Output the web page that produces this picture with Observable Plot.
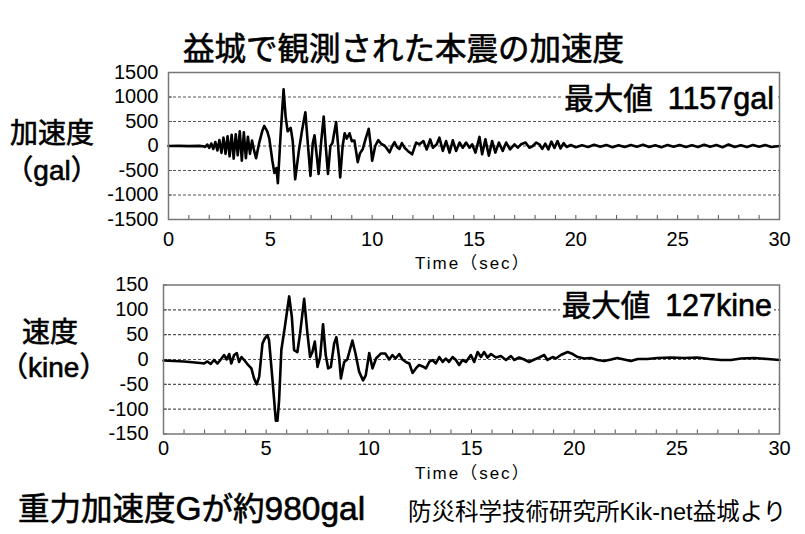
<!DOCTYPE html>
<html><head><meta charset="utf-8">
<script src="https://cdn.jsdelivr.net/npm/d3@7"></script>
<script src="https://cdn.jsdelivr.net/npm/@observablehq/plot@0.6"></script>
<style>
body{margin:0;background:#fff;}
#wrap{position:relative;width:805px;height:534px;overflow:hidden;font-family:"Liberation Sans","Noto Sans CJK JP",sans-serif;color:#000;}
.abs{position:absolute;white-space:nowrap;line-height:1;}
.big{-webkit-text-stroke:0.6px #000;}
.j{font-family:"Noto Sans CJK JP",sans-serif;font-weight:normal;}
.l{font-family:"Liberation Sans",Arial,sans-serif;font-weight:normal;}
.box{background:#fff;padding:1px 2px;}
.plot{position:absolute;left:0;}
.side{text-align:center;font-size:28px;}
</style></head><body>
<div id="wrap">
  <div class="abs j big" style="left:183px;top:31px;font-size:31.5px;">益城で観測された本震の加速度</div>
  <div class="abs big side" style="left:0px;width:104px;top:114px;line-height:35px;"><span class="j">加速度</span><br><span class="j">（</span><span class="l">gal</span><span class="j">）</span></div>
  <div class="abs big side" style="left:0px;width:100px;top:314px;line-height:32px;"><span class="j">速度</span><br><span class="j">（</span><span class="l">kine</span><span class="j">）</span></div>
  <div class="abs big" style="left:18px;top:491px;"><span class="j" style="font-size:31.5px;">重力加速度</span><span class="l" style="font-size:33.5px;">G</span><span class="j" style="font-size:31.5px;">が約</span><span class="l" style="font-size:33.5px;">980gal</span></div>
  <div class="abs" style="left:408px;top:499px;font-size:23.5px;"><span class="j">防災科学技術研究所</span><span class="l">Kik-net</span><span class="j">益城より</span></div>
  <div id="p1" class="plot" style="top:60px;"></div>
  <div id="p2" class="plot" style="top:270px;"></div>
  <div class="abs l" style="left:415px;top:253px;font-size:17px;letter-spacing:2px;">Time<span class="j">（</span>sec<span class="j">）</span></div>
  <div class="abs l" style="left:415px;top:463px;font-size:17px;letter-spacing:2px;">Time<span class="j">（</span>sec<span class="j">）</span></div>
  <div class="abs box big" style="right:29px;top:81px;"><span class="j" style="font-size:29.5px;">最大値</span><span class="l" style="font-size:30.5px;margin-left:15px;">1157gal</span></div>
  <div class="abs box big" style="right:31px;top:288px;"><span class="j" style="font-size:29.5px;">最大値</span><span class="l" style="font-size:30.5px;margin-left:15px;">127kine</span></div>
</div>
<script>
// ---- data ----
const xTicks = [0, 5, 10, 15, 20, 25, 30];
const minorTicks = d3.range(1, 30);
const accTicks = [-1500, -1000, -500, 0, 500, 1000, 1500];
const velTicks = [-150, -100, -50, 0, 50, 100, 150];

const accTime = [0,0.5,1.0,1.5,1.7,1.8,1.9,2.0,2.1,2.2,2.3,2.4,2.5,2.6,2.7,2.8,2.9,3.0,3.1,3.2,3.3,3.4,3.5,3.6,3.7,3.8,3.9,4.0,4.1,4.2,4.3,4.45,4.6,4.7,4.85,4.95,5.1,5.2,5.3,5.37,5.5,5.65,5.75,5.85,6.0,6.1,6.22,6.4,6.55,6.72,6.85,6.97,7.08,7.17,7.28,7.37,7.5,7.62,7.72,7.83,7.95,8.05,8.23,8.33,8.43,8.55,8.65,8.75,8.89,9.0,9.13,9.29,9.4,9.54,9.68,9.83,9.92,10.0,10.15,10.3,10.45,10.6,10.72,10.85,11.0,11.1,11.22,11.34,11.46,11.59,11.75,11.96,12.16,12.32,12.52,12.68,12.85,12.98,13.17,13.3,13.47,13.63,13.8,13.96,14.12,14.29,14.45,14.61,14.78,14.91,15.07,15.27,15.4,15.56,15.73,15.89,16.05,16.22,16.41,16.58,16.77,16.99,17.15,17.31,17.53,17.72,17.89,18.05,18.21,18.35,18.5,18.65,18.8,18.95,19.1,19.25,19.4,19.55,19.75,20.0,20.3,20.6,20.9,21.2,21.5,21.8,22.1,22.4,22.7,23.0,23.3,23.6,23.9,24.2,24.5,24.8,25.1,25.4,25.7,26.0,26.3,26.6,26.9,27.2,27.5,27.8,28.1,28.4,28.7,29.0,29.3,29.6,30.0];
const accValue = [0,3,-3,3,-5,-20,30,-40,50,-60,80,-90,120,-140,170,-160,200,-210,230,-260,240,-190,300,-300,280,-250,190,-160,110,-90,-250,60,300,410,300,150,-300,-550,-450,-760,200,1157,600,300,370,100,-680,-100,300,690,0,-610,50,220,-200,-570,100,600,0,-570,0,60,490,0,-640,0,260,150,260,100,110,-330,-150,-60,150,350,50,-300,0,120,40,10,-50,-130,10,77,-20,-60,60,-35,-100,-170,70,35,100,-70,135,-35,35,170,-100,100,-135,115,-100,70,-35,70,-35,35,-135,185,-170,135,-200,100,-135,70,-100,70,-70,35,-35,35,70,-35,0,70,35,-60,50,-70,90,-40,100,-50,60,-20,20,-25,15,-20,25,-15,20,-25,15,-20,20,-15,25,-20,15,-25,20,-15,20,-20,15,-20,25,-15,20,-25,30,-20,15,-20,20,-15,20,-20,0];

const velTime = [0,1.0,1.8,1.98,2.14,2.3,2.46,2.63,2.79,2.95,3.08,3.2,3.3,3.44,3.57,3.68,3.8,3.93,4.12,4.28,4.41,4.54,4.66,4.82,4.93,5.06,5.14,5.31,5.47,5.55,5.63,5.74,5.91,6.12,6.25,6.36,6.52,6.65,6.85,7.01,7.14,7.25,7.37,7.5,7.63,7.77,7.9,8.02,8.15,8.31,8.42,8.55,8.64,8.8,8.95,9.2,9.35,9.53,9.72,9.85,10.02,10.18,10.35,10.58,10.8,10.99,11.15,11.3,11.48,11.64,11.8,11.97,12.13,12.29,12.45,12.62,12.78,12.94,13.1,13.26,13.43,13.6,13.75,13.9,14.08,14.24,14.4,14.56,14.73,14.97,15.13,15.3,15.46,15.62,15.78,15.95,16.19,16.43,16.68,16.92,17.08,17.32,17.57,17.81,18.06,18.3,18.54,18.7,18.95,19.11,19.35,19.68,19.93,20.17,20.5,20.81,21.14,21.46,21.8,22.1,22.43,22.76,23.1,23.56,24.06,24.71,25.36,26.0,26.6,27.15,27.64,28.12,28.77,29.42,30.0];
const velValue = [-2,-4,-7,-8,-4,-9,-1,-8,0,9,0,11,-8,9,13,-5,5,-1,-11,-18,-38,-50,-35,32,42,49,39,-42,-123,-123,-82,19,66,127,86,19,15,52,122,52,5,15,36,-15,5,71,9,-18,-15,32,45,5,-38,-5,0,38,12,-25,-42,-32,13,-18,2,12,12,0,9,2,11,0,-5,-8,-27,-18,-11,-14,-18,-5,-1,-8,5,-5,2,-5,5,-1,-11,-1,-5,9,-5,15,5,15,4,11,4,7,-1,7,-1,4,0,-5,0,4,9,-1,5,2,9,15,11,5,2,3,-1,-3,0,3,0,-3,1,1,3,4,3,4,1,-1,-1,2,3,1,-1];

const acc = accTime.map((t, i) => ({t, v: accValue[i]}));
const vel = velTime.map((t, i) => ({t, v: velValue[i]}));

function panel(data, yTicks, m) {
  const H = 215;
  const frameH = H - m.top - m.bottom;
  const frameW = 805 - m.left - m.right;
  return Plot.plot({
    width: 805, height: H,
    marginLeft: m.left, marginRight: m.right, marginTop: m.top, marginBottom: m.bottom,
    style: {fontFamily: "Liberation Sans, Arial, sans-serif", fontSize: "20px", color: "#000", background: "transparent", overflow: "visible"},
    x: {domain: [0, 30], label: null},
    y: {domain: [yTicks[0], yTicks[yTicks.length - 1]], label: null},
    marks: [
      Plot.ruleY(yTicks.slice(1, -1), {y: d => d, stroke: "#555", strokeDasharray: "3,2", strokeWidth: 1.2}),
      Plot.tickX(minorTicks, {x: d => d, insetTop: frameH - 4, stroke: "#555", strokeWidth: 1}),
      Plot.tickY(yTicks, {y: d => d, insetRight: frameW - 4, stroke: "#555", strokeWidth: 1}),
      Plot.line(data, {x: "t", y: "v", stroke: "#000", strokeWidth: 2.6, strokeLinejoin: "round"}),
      Plot.frame({stroke: "#777", strokeWidth: 1.5}),
      Plot.axisX({ticks: xTicks, tickSize: 0, tickPadding: m.xpad, tickFormat: d => String(d), label: null}),
      Plot.axisY({ticks: yTicks, tickSize: 0, tickPadding: m.ypad, tickFormat: d => String(d), label: null})
    ]
  });
}

document.getElementById("p1").append(panel(acc, accTicks, {left: 168, right: 26, top: 12, bottom: 56, xpad: 12, ypad: 10}));
document.getElementById("p2").append(panel(vel, velTicks, {left: 163, right: 26, top: 14.5, bottom: 51.5, xpad: 7, ypad: 15}));
</script>
</body></html>
